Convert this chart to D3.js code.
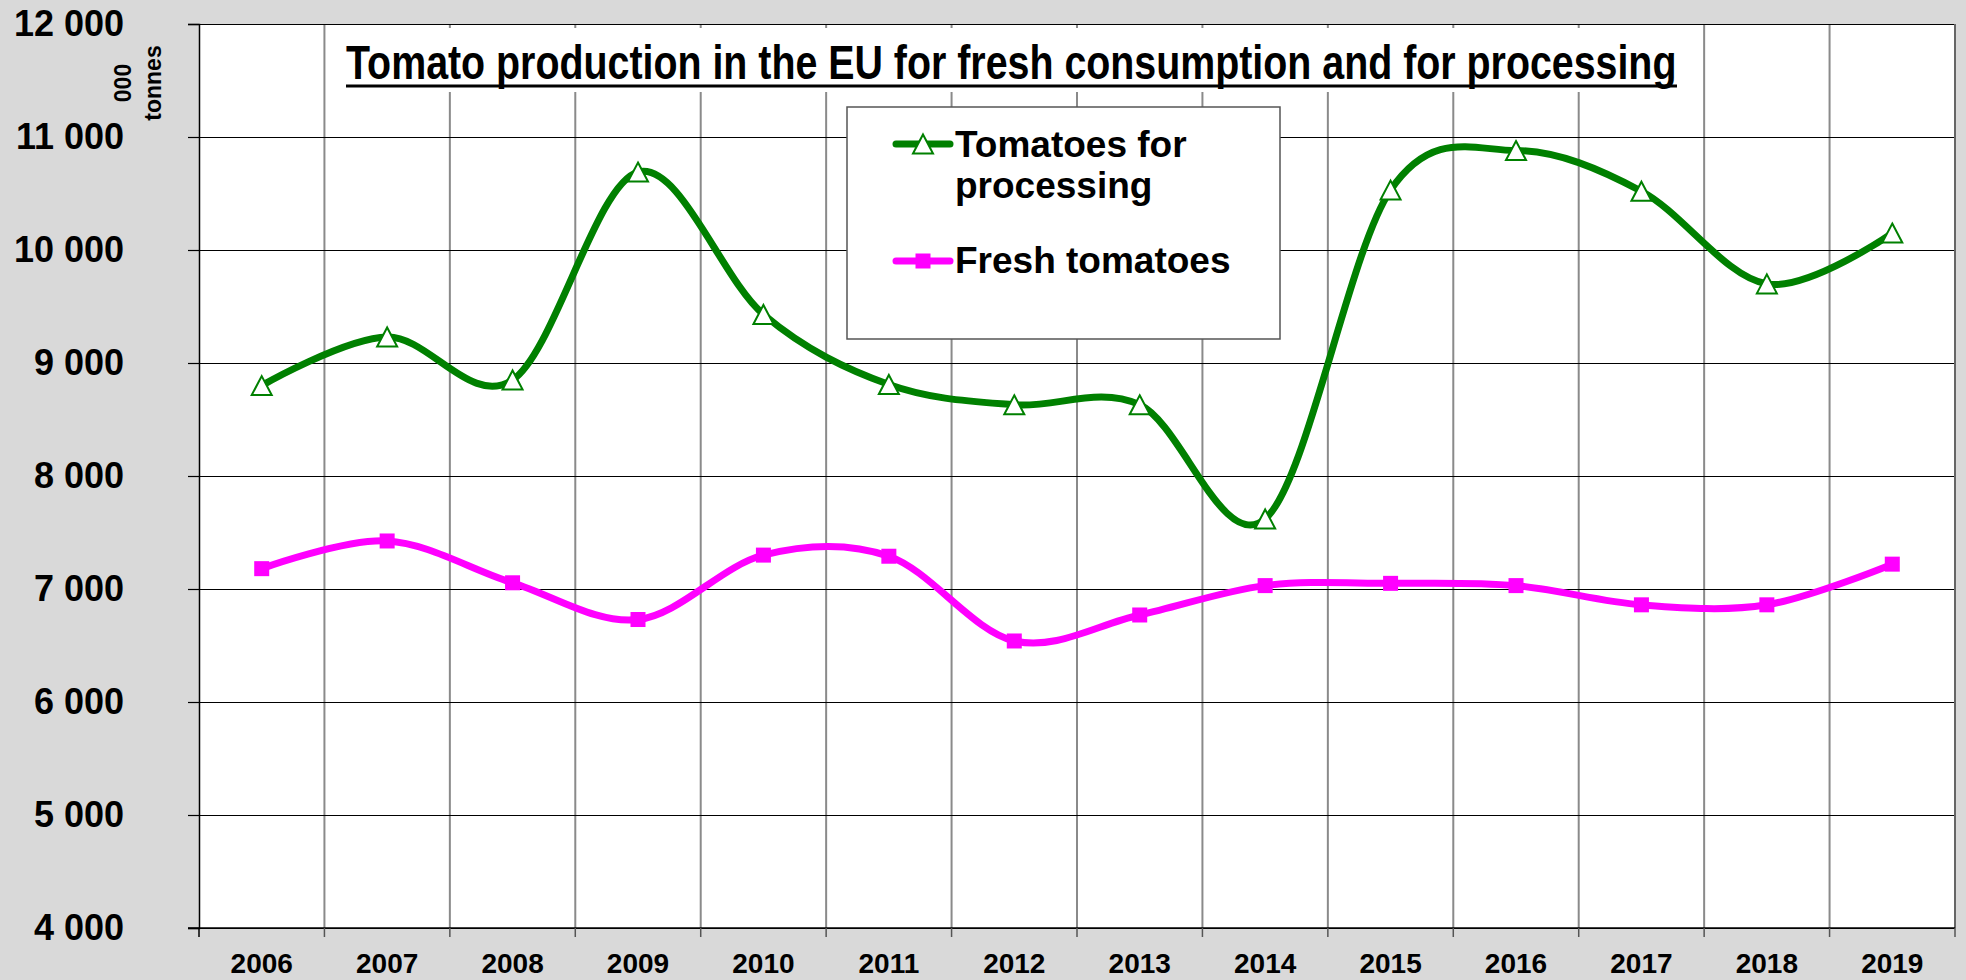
<!DOCTYPE html>
<html lang="en">
<head>
    <meta charset="UTF-8">
    <title>Tomato production in the EU</title>
    <script src="https://cdn.jsdelivr.net/npm/d3@7/dist/d3.min.js"></script>
    <style>
        body {
            margin: 0;
            background: #d9d9d9;
        }
        text {
            font-family: "Liberation Sans", Arial, sans-serif;
            font-weight: bold;
        }
    </style>
</head>
<body>
<div id="container"></div>
<script>

    // data (000 tonnes)
    const years = ["2006", "2007", "2008", "2009", "2010", "2011", "2012",
        "2013", "2014", "2015", "2016", "2017", "2018", "2019"];
    const processing = [8800, 9230, 8850, 10690, 9430, 8810, 8630,
        8630, 7620, 10530, 10880, 10520, 9700, 10150];
    const fresh = [7180, 7425, 7055, 6730, 7300, 7290, 6540,
        6770, 7030, 7050, 7030, 6860, 6860, 7220];
    const yTicks = [4000, 5000, 6000, 7000, 8000, 9000, 10000, 11000, 12000];
    const seriesNames = ["Tomatoes for processing", "Fresh tomatoes"];

    const W = 1966, H = 980;
    const pLeft = 199, pRight = 1955, pTop = 24, pBottom = 928;
    const green = "#008000", pink = "#ff00ff";

    let svg = d3.select("#container")
        .append('svg')
        .attr("width", W)
        .attr("height", H)
        .style('background-color', '#d9d9d9')
        .style('display', 'block');

    let x = d3.scaleBand()
        .domain(years)
        .range([pLeft, pRight])
        .padding(0);
    let y = d3.scaleLinear()
        .domain([yTicks[0], yTicks[yTicks.length - 1]])
        .range([pBottom, pTop]);

    let fmt = d3.formatLocale({decimal: ".", thousands: " ", grouping: [3], currency: ["", ""]}).format(",d");

    // plot area
    svg.append("rect")
        .attr("x", pLeft).attr("y", pTop)
        .attr("width", pRight - pLeft).attr("height", pBottom - pTop)
        .attr("fill", "#ffffff");

    // vertical grid at category boundaries
    let bounds = years.map(d => x(d)).concat([x.range()[1]]);
    svg.append("g")
        .selectAll("line")
        .data(bounds.slice(1))
        .join("line")
        .attr("x1", d => d).attr("x2", d => d)
        .attr("y1", pTop).attr("y2", pBottom)
        .attr("stroke", "#8a8a8a")
        .attr("stroke-width", 2);

    // title (white box hides grid behind it), squeezed to the narrow width
    let titleG = svg.append("g");
    titleG.append("rect")
        .attr("x", 338).attr("y", 28)
        .attr("width", 1350).attr("height", 64)
        .attr("fill", "#ffffff");
    let titleWrap = titleG.append("g");
    let title = titleWrap.append("text")
        .attr("x", 0)
        .attr("y", 0)
        .style("font-family", '"Liberation Sans Narrow", "Arial Narrow", "Liberation Sans", sans-serif')
        .style("font-size", "48px")
        .text("Tomato production in the EU for fresh consumption and for processing");
    let natural = title.node().getComputedTextLength();
    titleWrap.attr("transform", "translate(346,79) scale(" + (1331 / natural) + ",1)");
    titleG.append("line")
        .attr("x1", 346).attr("x2", 346 + 1331)
        .attr("y1", 86).attr("y2", 86)
        .attr("stroke", "#000")
        .attr("stroke-width", 3);

    // horizontal grid
    svg.append("g")
        .attr("transform", "translate(" + pLeft + ",0)")
        .call(d3.axisLeft(y).tickValues(yTicks).tickSize(-(pRight - pLeft)).tickFormat(""))
        .call(g => g.select(".domain").remove())
        .call(g => g.selectAll("line").attr("stroke", "#000").attr("stroke-width", 1.2));

    // y axis
    svg.append("g")
        .attr("transform", "translate(" + pLeft + ",0)")
        .call(d3.axisLeft(y).tickValues(yTicks).tickSize(11).tickPadding(64).tickFormat(fmt))
        .call(g => g.select(".domain").attr("stroke-width", 1.5))
        .call(g => g.selectAll("line").attr("stroke-width", 1.2))
        .call(g => g.selectAll("text")
            .style("font-size", "36px")
            .style("font-family", '"Liberation Sans", Arial, sans-serif')
            .style("font-weight", "bold")
            .attr("fill", "#000"));

    // right border
    svg.append("line")
        .attr("x1", pRight).attr("x2", pRight)
        .attr("y1", pTop).attr("y2", pBottom)
        .attr("stroke", "#666")
        .attr("stroke-width", 2);

    // x axis: labels at band centres, ticks at boundaries
    svg.append("g")
        .attr("transform", "translate(0," + pBottom + ")")
        .call(d3.axisBottom(x).tickSize(0).tickPadding(25))
        .call(g => g.select(".domain").remove())
        .call(g => g.selectAll("text")
            .style("font-size", "28px")
            .style("font-family", '"Liberation Sans", Arial, sans-serif')
            .style("font-weight", "bold")
            .attr("fill", "#000"));
    svg.append("line")
        .attr("x1", pLeft - 11).attr("x2", pRight)
        .attr("y1", y(yTicks[0])).attr("y2", y(yTicks[0]))
        .attr("stroke", "#000")
        .attr("stroke-width", 1.5);
    svg.append("g")
        .selectAll("line")
        .data(bounds)
        .join("line")
        .attr("x1", d => d).attr("x2", d => d)
        .attr("y1", pBottom).attr("y2", pBottom + 9)
        .attr("stroke", (d, i) => i === 0 ? "#000" : "#555")
        .attr("stroke-width", 1.5);

    // unit label
    svg.append("text")
        .attr("transform", "translate(131,83) rotate(-90)")
        .attr("text-anchor", "middle")
        .style("font-size", "23px")
        .text("000");
    svg.append("text")
        .attr("transform", "translate(161,83) rotate(-90)")
        .attr("text-anchor", "middle")
        .style("font-size", "23px")
        .text("tonnes");

    // series
    let xc = d => x(d) + x.bandwidth() / 2;
    let line = d3.line()
        .x((d, i) => xc(years[i]))
        .y(d => y(d))
        .curve(d3.curveCardinal.tension(0));

    const tri = "M0,-9.5L10,9.5L-10,9.5Z";

    function triangle(g, cx, cy) {
        g.append("path")
            .attr("d", tri)
            .attr("transform", "translate(" + cx + "," + cy + ")")
            .attr("fill", "#ffffff")
            .attr("stroke", green)
            .attr("stroke-width", 2);
    }

    function square(g, cx, cy) {
        g.append("rect")
            .attr("x", cx - 7.5).attr("y", cy - 7.5)
            .attr("width", 15).attr("height", 15)
            .attr("fill", pink);
    }

    svg.append("path")
        .datum(fresh)
        .attr("d", line)
        .attr("fill", "none")
        .style("stroke", pink)
        .style("stroke-width", "7px");
    let fm = svg.append("g");
    fresh.forEach((v, i) => square(fm, xc(years[i]), y(v)));

    svg.append("path")
        .datum(processing)
        .attr("d", line)
        .attr("fill", "none")
        .style("stroke", green)
        .style("stroke-width", "7px");
    let pm = svg.append("g");
    processing.forEach((v, i) => triangle(pm, xc(years[i]), y(v)));

    // legend
    let lg = svg.append("g");
    lg.append("rect")
        .attr("x", 847).attr("y", 107)
        .attr("width", 433).attr("height", 232)
        .attr("fill", "#ffffff")
        .attr("stroke", "#555")
        .attr("stroke-width", 1.5);

    lg.append("line")
        .attr("x1", 896).attr("x2", 950)
        .attr("y1", 144).attr("y2", 144)
        .attr("stroke", green).attr("stroke-width", 7).attr("stroke-linecap", "round");
    triangle(lg, 923, 144);
    let t1 = lg.append("text")
        .attr("x", 955).attr("y", 157)
        .style("font-size", "37px");
    t1.append("tspan").text("Tomatoes for");
    t1.append("tspan").attr("x", 955).attr("dy", 41).text("processing");

    lg.append("line")
        .attr("x1", 896).attr("x2", 950)
        .attr("y1", 261).attr("y2", 261)
        .attr("stroke", pink).attr("stroke-width", 7).attr("stroke-linecap", "round");
    square(lg, 923, 261);
    lg.append("text")
        .attr("x", 955).attr("y", 273)
        .style("font-size", "37px")
        .text(seriesNames[1]);

</script>
</body>
</html>
